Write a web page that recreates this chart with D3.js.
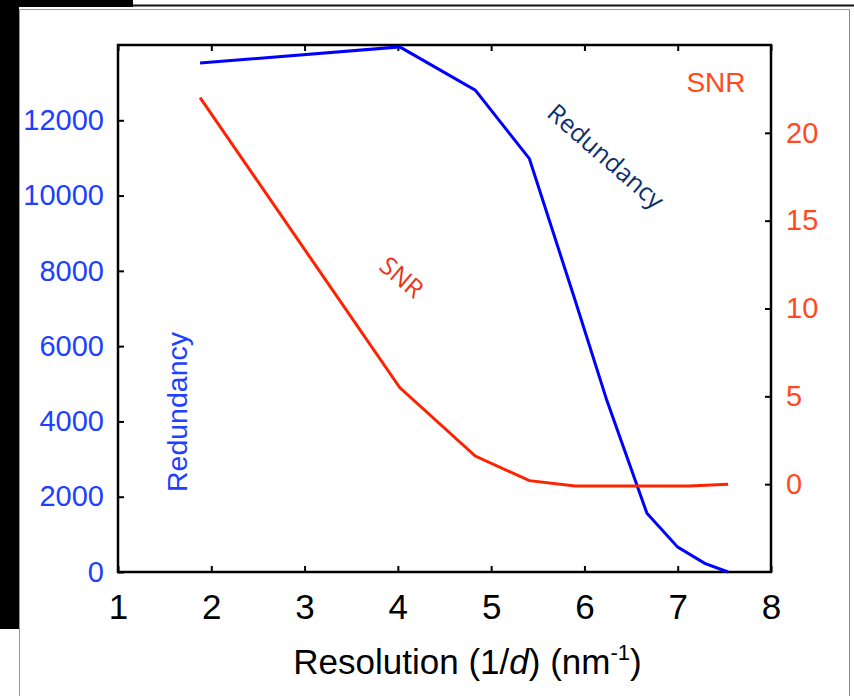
<!DOCTYPE html>
<html>
<head>
<meta charset="utf-8">
<script src="https://cdn.jsdelivr.net/npm/d3@7"></script>
<style>
  html, body { margin: 0; padding: 0; background: #fff; }
  svg { display: block; }
</style>
</head>
<body>
<svg id="chart" width="854" height="696"></svg>
<script>
// ---- data ----
const xTicks = [1, 2, 3, 4, 5, 6, 7, 8];
const redundancyTicks = [0, 2000, 4000, 6000, 8000, 10000, 12000];
const snrTicks = [0, 5, 10, 15, 20];

const resolution = [1.88, 4.02, 4.83, 5.41, 5.90, 6.24, 6.67, 7.00, 7.29, 7.54];
const redundancy = [13520, 13950, 12800, 10980, 7220, 4560, 1560, 660, 230, 0];

const snrResolution = [1.88, 4.02, 4.83, 5.41, 5.90, 7.12, 7.54];
const snr = [22.0, 5.5, 1.6, 0.2, -0.1, -0.1, 0.0];

// ---- layout ----
const svg = d3.select("#chart");
const L = 118, R = 771, T = 45, B = 572;

// slide frame decorations
svg.append("rect").attr("x", 0).attr("y", 0).attr("width", 19).attr("height", 628).attr("fill", "#000");
svg.append("rect").attr("x", 0).attr("y", 0).attr("width", 133).attr("height", 7).attr("fill", "#000");
svg.append("line").attr("x1", 133).attr("x2", 854).attr("y1", 5.5).attr("y2", 5.5).attr("stroke", "#111").attr("stroke-width", 2);
svg.append("line").attr("x1", 19.5).attr("x2", 849.5).attr("y1", 9.5).attr("y2", 9.5).attr("stroke", "#999").attr("stroke-width", 1);
svg.append("line").attr("x1", 19.5).attr("x2", 19.5).attr("y1", 9.5).attr("y2", 696).attr("stroke", "#999").attr("stroke-width", 1);
svg.append("line").attr("x1", 849.5).attr("x2", 849.5).attr("y1", 9.5).attr("y2", 696).attr("stroke", "#888").attr("stroke-width", 1);
svg.append("line").attr("x1", 0).attr("x2", 19).attr("y1", 628.5).attr("y2", 628.5).attr("stroke", "#000").attr("stroke-width", 1);

// ---- scales ----
const x = d3.scaleLinear().domain([1, 8]).range([L, R]);
const yL = d3.scaleLinear().domain([0, 14000]).range([B, T]);
const yR = d3.scaleLinear().domain([-5, 25]).range([B, T]);

const font = "'Liberation Sans', Arial, sans-serif";
const blue = "#2040ff";
const orange = "#ff4a1e";

// ---- axes ----
const gx = svg.append("g").attr("transform", `translate(0,${B})`)
  .call(d3.axisBottom(x).tickValues(xTicks).tickSize(-6).tickPadding(22).tickFormat(d3.format("d")));
gx.selectAll("text").attr("font-family", font).attr("font-size", 35).attr("fill", "#000");

const gxt = svg.append("g").attr("transform", `translate(0,${T})`)
  .call(d3.axisTop(x).tickValues(xTicks).tickSize(-6).tickFormat(""));

const gl = svg.append("g").attr("transform", `translate(${L},0)`)
  .call(d3.axisLeft(yL).tickValues(redundancyTicks).tickSize(-6).tickPadding(14).tickFormat(d3.format("d")));
gl.selectAll("text").attr("font-family", font).attr("font-size", 29).attr("fill", blue);

const gr = svg.append("g").attr("transform", `translate(${R},0)`)
  .call(d3.axisRight(yR).tickValues(snrTicks).tickSize(-6).tickPadding(15).tickFormat(d3.format("d")));
gr.selectAll("text").attr("font-family", font).attr("font-size", 29).attr("fill", orange);

[gx, gxt, gl, gr].forEach(g => {
  g.select(".domain").remove();
  g.selectAll(".tick line").attr("stroke", "#000").attr("stroke-width", 2);
});

// frame
svg.append("rect").attr("x", L).attr("y", T).attr("width", R - L).attr("height", B - T)
  .attr("fill", "none").attr("stroke", "#000").attr("stroke-width", 2.5);

// ---- lines ----
const blueLine = d3.line().x((d, i) => x(resolution[i])).y(d => yL(d));
svg.append("path").datum(redundancy).attr("d", blueLine)
  .attr("fill", "none").attr("stroke", "#0000ff").attr("stroke-width", 3);

const redLine = d3.line().x((d, i) => x(snrResolution[i])).y(d => yR(d));
svg.append("path").datum(snr).attr("d", redLine)
  .attr("fill", "none").attr("stroke", "#ff2200").attr("stroke-width", 3);

// ---- labels ----
svg.append("text").attr("x", (L + R) / 2 + 23).attr("y", 674).attr("text-anchor", "middle")
  .attr("font-family", font).attr("font-size", 35).attr("fill", "#000")
  .call(t => {
    t.append("tspan").text("Resolution (1/");
    t.append("tspan").attr("font-style", "italic").text("d");
    t.append("tspan").text(") (nm");
    t.append("tspan").attr("font-size", 22).attr("dy", -14).text("-1");
    t.append("tspan").attr("dy", 14).text(")");
  });

svg.append("text").attr("transform", "translate(187,412) rotate(-90)").attr("text-anchor", "middle")
  .attr("font-family", font).attr("font-size", 28.5).attr("fill", blue).text("Redundancy");

svg.append("text").attr("transform", "translate(600,163) rotate(41)").attr("text-anchor", "middle")
  .attr("font-family", "'Open Sans', sans-serif").attr("font-size", 25).attr("fill", "#0b2f6e").text("Redundancy");

svg.append("text").attr("transform", "translate(396,284) rotate(40)").attr("text-anchor", "middle")
  .attr("font-family", "'Open Sans', sans-serif").attr("font-size", 25).attr("fill", "#e8351a").text("SNR");

svg.append("text").attr("x", 716).attr("y", 92).attr("text-anchor", "middle")
  .attr("font-family", font).attr("font-size", 28).attr("fill", orange).text("SNR");
</script>
</body>
</html>
